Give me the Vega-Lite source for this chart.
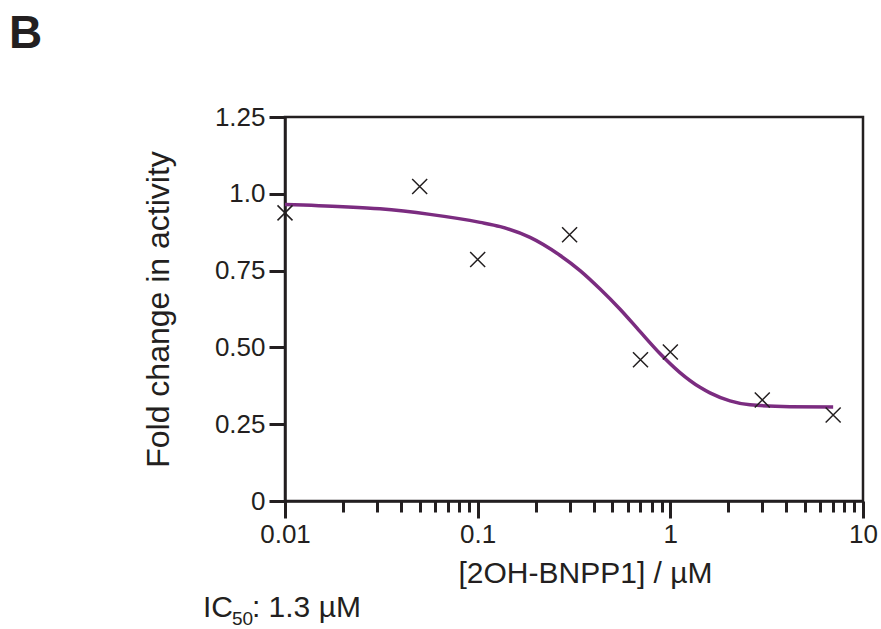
{
  "$schema": "https://vega.github.io/schema/vega-lite/v6.json",
  "width": 578,
  "height": 384,
  "autosize": {"type": "none"},
  "padding": {"left": 285, "top": 117, "right": 18, "bottom": 128},
  "background": "white",
  "title": {
    "text": "B",
    "anchor": "start",
    "frame": "group",
    "font": "Liberation Sans",
    "fontSize": 46,
    "fontWeight": "bold",
    "color": "#231f20",
    "dx": -276,
    "offset": 10,
    "baseline": "alphabetic"
  },
  "config": {
    "view": {"stroke": "#231f20", "strokeWidth": 2.5},
    "font": "Liberation Sans",
    "axis": {
      "grid": false,
      "domainColor": "#231f20",
      "domainWidth": 2.5,
      "tickColor": "#231f20",
      "tickWidth": 3,
      "labelColor": "#231f20",
      "titleColor": "#231f20",
      "labelFont": "Liberation Sans",
      "titleFont": "Liberation Sans",
      "labelFontSize": 26,
      "titleFontWeight": "normal"
    }
  },
  "datasets": {
    "curve": [
      {"conc": 0.01, "fold": 0.965},
      {"conc": 0.02, "fold": 0.958},
      {"conc": 0.0311, "fold": 0.951},
      {"conc": 0.0565, "fold": 0.933},
      {"conc": 0.103, "fold": 0.907},
      {"conc": 0.131, "fold": 0.893},
      {"conc": 0.187, "fold": 0.858},
      {"conc": 0.267, "fold": 0.8},
      {"conc": 0.34, "fold": 0.75},
      {"conc": 0.432, "fold": 0.69},
      {"conc": 0.547, "fold": 0.625},
      {"conc": 0.695, "fold": 0.552},
      {"conc": 0.883, "fold": 0.48},
      {"conc": 1.122, "fold": 0.418},
      {"conc": 1.425, "fold": 0.37},
      {"conc": 1.605, "fold": 0.352},
      {"conc": 2.04, "fold": 0.326},
      {"conc": 2.59, "fold": 0.313},
      {"conc": 4.18, "fold": 0.307},
      {"conc": 7, "fold": 0.306}
    ],
    "points": [
      {"conc": 0.01, "fold": 0.938},
      {"conc": 0.05, "fold": 1.024},
      {"conc": 0.1, "fold": 0.786},
      {"conc": 0.3, "fold": 0.867},
      {"conc": 0.7, "fold": 0.46},
      {"conc": 1, "fold": 0.485},
      {"conc": 3, "fold": 0.329},
      {"conc": 7, "fold": 0.28}
    ],
    "note": [{"label": "IC50"}]
  },
  "layer": [
    {
      "data": {"name": "curve"},
      "mark": {"type": "line", "color": "#7b2c80", "strokeWidth": 3.5, "interpolate": "monotone"},
      "encoding": {
        "x": {
          "field": "conc",
          "type": "quantitative",
          "scale": {"type": "log", "domain": [0.01, 10], "nice": false},
          "axis": {
            "title": "[2OH-BNPP1] / µM",
            "titleFontSize": 30,
            "titlePadding": 11,
            "titleX": 300,
            "values": [0.01, 0.02, 0.03, 0.04, 0.05, 0.06, 0.07, 0.08, 0.09, 0.1, 0.2, 0.3, 0.4, 0.5, 0.6, 0.7, 0.8, 0.9, 1, 2, 3, 4, 5, 6, 7, 8, 9, 10],
            "labelExpr": "(datum.value == 0.01 || datum.value == 0.1 || datum.value == 1 || datum.value == 10) ? format(datum.value, '~g') : ''",
            "tickSize": {"condition": {"test": "datum.value == 0.01 || datum.value == 0.1 || datum.value == 1 || datum.value == 10", "value": 17}, "value": 11},
            "labelPadding": 3,
            "labelFlush": false,
            "labelOverlap": false
          }
        },
        "y": {
          "field": "fold",
          "type": "quantitative",
          "scale": {"domain": [0, 1.25], "nice": false},
          "axis": {
            "title": "Fold change in activity",
            "titleFontSize": 32,
            "titlePadding": 39,
            "values": [0, 0.25, 0.5, 0.75, 1, 1.25],
            "labelExpr": "datum.value == 0 ? '0' : (datum.value == 1 ? '1.0' : format(datum.value, '.2f'))",
            "tickSize": 16,
            "labelPadding": 4,
            "labelOverlap": false
          }
        }
      }
    },
    {
      "data": {"name": "points"},
      "mark": {"type": "point", "shape": "M-1,-1L1,1M1,-1L-1,1", "filled": false, "stroke": "#231f20", "strokeWidth": 1.5, "size": 225, "opacity": 1},
      "encoding": {
        "x": {"field": "conc", "type": "quantitative"},
        "y": {"field": "fold", "type": "quantitative"}
      }
    },
    {
      "data": {"name": "note"},
      "mark": {"type": "text", "text": "IC", "align": "left", "baseline": "alphabetic", "fontSize": 30, "color": "#231f20"},
      "encoding": {
        "x": {"datum": 0.00375},
        "y": {"datum": -0.378}
      }
    },
    {
      "data": {"name": "note"},
      "mark": {"type": "text", "text": "50", "align": "left", "baseline": "alphabetic", "fontSize": 19, "dx": 29, "dy": 8, "color": "#231f20"},
      "encoding": {
        "x": {"datum": 0.00375},
        "y": {"datum": -0.378}
      }
    },
    {
      "data": {"name": "note"},
      "mark": {"type": "text", "text": ": 1.3 µM", "align": "left", "baseline": "alphabetic", "fontSize": 30, "dx": 49, "color": "#231f20"},
      "encoding": {
        "x": {"datum": 0.00375},
        "y": {"datum": -0.378}
      }
    }
  ]
}
